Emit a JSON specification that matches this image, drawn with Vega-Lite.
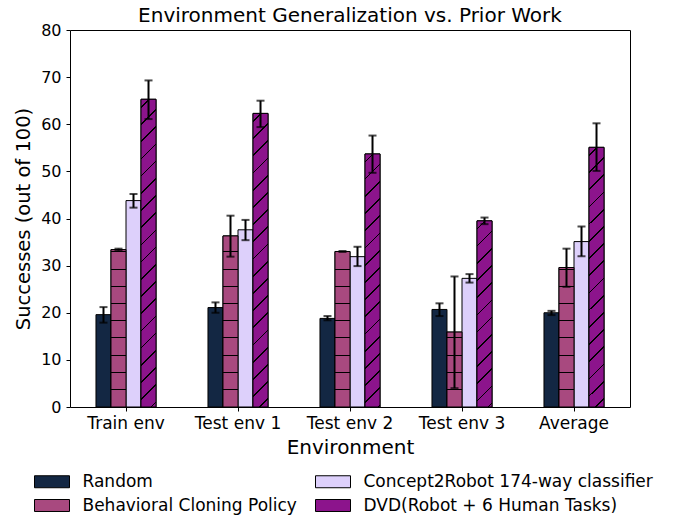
{
  "$schema": "https://vega.github.io/schema/vega-lite/v6.json",
  "width": 560,
  "height": 377,
  "autosize": {"type": "none"},
  "padding": {"left": 70, "top": 30, "right": 46, "bottom": 112},
  "config": {
    "font": "DejaVu Sans",
    "view": {"stroke": "black", "strokeWidth": 1},
    "axis": {"grid": false, "domain": false, "tickColor": "black", "labelColor": "black", "titleColor": "black", "labelFont": "DejaVu Sans", "titleFont": "DejaVu Sans", "titleFontWeight": "normal"}
  },
  "title": {"text": "Environment Generalization vs. Prior Work", "fontSize": 20, "fontWeight": "normal", "color": "black", "offset": -4, "font": "DejaVu Sans"},
  "data": {"values": [
    {"env": "Train env", "method": "Random", "value": 19.6, "lo": 17.9, "hi": 21.2},
    {"env": "Train env", "method": "Behavioral Cloning Policy", "value": 33.4, "lo": 33.2, "hi": 33.6},
    {"env": "Train env", "method": "Concept2Robot 174-way classifier", "value": 43.8, "lo": 42.3, "hi": 45.2},
    {"env": "Train env", "method": "DVD(Robot + 6 Human Tasks)", "value": 65.3, "lo": 61.1, "hi": 69.3},
    {"env": "Test env 1", "method": "Random", "value": 21.1, "lo": 20.0, "hi": 22.2},
    {"env": "Test env 1", "method": "Behavioral Cloning Policy", "value": 36.3, "lo": 31.9, "hi": 40.6},
    {"env": "Test env 1", "method": "Concept2Robot 174-way classifier", "value": 37.6, "lo": 35.4, "hi": 39.7},
    {"env": "Test env 1", "method": "DVD(Robot + 6 Human Tasks)", "value": 62.3, "lo": 59.4, "hi": 65.0},
    {"env": "Test env 2", "method": "Random", "value": 18.8, "lo": 18.4, "hi": 19.3},
    {"env": "Test env 2", "method": "Behavioral Cloning Policy", "value": 33.0, "lo": 32.9, "hi": 33.1},
    {"env": "Test env 2", "method": "Concept2Robot 174-way classifier", "value": 31.9, "lo": 29.9, "hi": 34.0},
    {"env": "Test env 2", "method": "DVD(Robot + 6 Human Tasks)", "value": 53.7, "lo": 49.7, "hi": 57.6},
    {"env": "Test env 3", "method": "Random", "value": 20.7, "lo": 19.3, "hi": 22.0},
    {"env": "Test env 3", "method": "Behavioral Cloning Policy", "value": 15.9, "lo": 4.0, "hi": 27.7},
    {"env": "Test env 3", "method": "Concept2Robot 174-way classifier", "value": 27.3, "lo": 26.4, "hi": 28.2},
    {"env": "Test env 3", "method": "DVD(Robot + 6 Human Tasks)", "value": 39.5, "lo": 38.8, "hi": 40.2},
    {"env": "Average", "method": "Random", "value": 20.0, "lo": 19.5, "hi": 20.4},
    {"env": "Average", "method": "Behavioral Cloning Policy", "value": 29.6, "lo": 25.5, "hi": 33.6},
    {"env": "Average", "method": "Concept2Robot 174-way classifier", "value": 35.1, "lo": 32.0, "hi": 38.3},
    {"env": "Average", "method": "DVD(Robot + 6 Human Tasks)", "value": 55.1, "lo": 50.1, "hi": 60.2}
  ]},
  "encoding": {
    "x": {
      "field": "env", "type": "nominal",
      "scale": {"domain": ["Train env", "Test env 1", "Test env 2", "Test env 3", "Average"], "paddingInner": 0.464, "paddingOuter": 0.232},
      "axis": {"title": "Environment", "labelAngle": 0, "labelFontSize": 17, "titleFontSize": 20, "tickSize": 4, "labelPadding": 4, "titlePadding": 6}
    },
    "xOffset": {
      "field": "method", "type": "nominal",
      "scale": {"domain": ["Random", "Behavioral Cloning Policy", "Concept2Robot 174-way classifier", "DVD(Robot + 6 Human Tasks)"], "paddingInner": 0, "paddingOuter": 0}
    }
  },
  "layer": [
    {
      "mark": {"type": "bar", "stroke": "black", "strokeWidth": 1},
      "encoding": {
        "y": {"field": "value", "type": "quantitative", "scale": {"domain": [0, 80]},
          "axis": {"title": "Successes (out of 100)", "values": [0,10,20,30,40,50,60,70,80], "labelFontSize": 16, "titleFontSize": 19.5, "tickSize": 4, "labelPadding": 5, "titlePadding": 7}},
        "fill": {
          "field": "method", "type": "nominal",
          "scale": {"domain": ["Random", "Behavioral Cloning Policy", "Concept2Robot 174-way classifier", "DVD(Robot + 6 Human Tasks)"],
                    "range": ["#132743", "#a8497f", "#ddd0fb", "#8c148c"]},
          "legend": {
            "title": null, "orient": "none", "direction": "vertical", "legendX": -37, "legendY": 443, "columns": 2,
            "symbolType": "M-2.5,-0.857H2.5V0.857H-2.5Z", "symbolSize": 196, "symbolStrokeColor": "black", "symbolStrokeWidth": 1,
            "labelFontSize": 17, "labelFont": "DejaVu Sans", "labelColor": "black", "labelLimit": 400, "columnPadding": 16, "rowPadding": 6, "symbolOffset": 10.5, "labelOffset": 22
          }
        }
      }
    },
    {"transform": [{"filter": "datum.env == 'Train env' && datum.method == 'Behavioral Cloning Policy'"}],
     "mark": {"type": "bar", "stroke": "black", "strokeWidth": 1, "fill": {"gradient": "linear", "x1": 0, "y1": 1, "x2": 0, "y2": 0, "stops": [
      {"offset":0,"color":"#a8497f"},
      {"offset":0.1080,"color":"#a8497f"},{"offset":0.1080,"color":"#000"},{"offset":0.1144,"color":"#000"},{"offset":0.1144,"color":"#a8497f"},
      {"offset":0.2173,"color":"#a8497f"},{"offset":0.2173,"color":"#000"},{"offset":0.2236,"color":"#000"},{"offset":0.2236,"color":"#a8497f"},
      {"offset":0.3266,"color":"#a8497f"},{"offset":0.3266,"color":"#000"},{"offset":0.3329,"color":"#000"},{"offset":0.3329,"color":"#a8497f"},
      {"offset":0.4358,"color":"#a8497f"},{"offset":0.4358,"color":"#000"},{"offset":0.4422,"color":"#000"},{"offset":0.4422,"color":"#a8497f"},
      {"offset":0.5451,"color":"#a8497f"},{"offset":0.5451,"color":"#000"},{"offset":0.5515,"color":"#000"},{"offset":0.5515,"color":"#a8497f"},
      {"offset":0.6544,"color":"#a8497f"},{"offset":0.6544,"color":"#000"},{"offset":0.6607,"color":"#000"},{"offset":0.6607,"color":"#a8497f"},
      {"offset":0.7637,"color":"#a8497f"},{"offset":0.7637,"color":"#000"},{"offset":0.7700,"color":"#000"},{"offset":0.7700,"color":"#a8497f"},
      {"offset":0.8729,"color":"#a8497f"},{"offset":0.8729,"color":"#000"},{"offset":0.8793,"color":"#000"},{"offset":0.8793,"color":"#a8497f"},
      {"offset":0.9822,"color":"#a8497f"},{"offset":0.9822,"color":"#000"},{"offset":0.9886,"color":"#000"},{"offset":0.9886,"color":"#a8497f"},
      {"offset":1,"color":"#a8497f"}]}},
     "encoding": {"y": {"field": "value", "type": "quantitative"}}},
    {"transform": [{"filter": "datum.env == 'Test env 1' && datum.method == 'Behavioral Cloning Policy'"}],
     "mark": {"type": "bar", "stroke": "black", "strokeWidth": 1, "fill": {"gradient": "linear", "x1": 0, "y1": 1, "x2": 0, "y2": 0, "stops": [
      {"offset":0,"color":"#a8497f"},
      {"offset":0.0994,"color":"#a8497f"},{"offset":0.0994,"color":"#000"},{"offset":0.1052,"color":"#000"},{"offset":0.1052,"color":"#a8497f"},
      {"offset":0.1999,"color":"#a8497f"},{"offset":0.1999,"color":"#000"},{"offset":0.2058,"color":"#000"},{"offset":0.2058,"color":"#a8497f"},
      {"offset":0.3005,"color":"#a8497f"},{"offset":0.3005,"color":"#000"},{"offset":0.3063,"color":"#000"},{"offset":0.3063,"color":"#a8497f"},
      {"offset":0.4010,"color":"#a8497f"},{"offset":0.4010,"color":"#000"},{"offset":0.4069,"color":"#000"},{"offset":0.4069,"color":"#a8497f"},
      {"offset":0.5016,"color":"#a8497f"},{"offset":0.5016,"color":"#000"},{"offset":0.5074,"color":"#000"},{"offset":0.5074,"color":"#a8497f"},
      {"offset":0.6021,"color":"#a8497f"},{"offset":0.6021,"color":"#000"},{"offset":0.6080,"color":"#000"},{"offset":0.6080,"color":"#a8497f"},
      {"offset":0.7027,"color":"#a8497f"},{"offset":0.7027,"color":"#000"},{"offset":0.7085,"color":"#000"},{"offset":0.7085,"color":"#a8497f"},
      {"offset":0.8032,"color":"#a8497f"},{"offset":0.8032,"color":"#000"},{"offset":0.8091,"color":"#000"},{"offset":0.8091,"color":"#a8497f"},
      {"offset":0.9038,"color":"#a8497f"},{"offset":0.9038,"color":"#000"},{"offset":0.9096,"color":"#000"},{"offset":0.9096,"color":"#a8497f"},
      {"offset":1,"color":"#a8497f"}]}},
     "encoding": {"y": {"field": "value", "type": "quantitative"}}},
    {"transform": [{"filter": "datum.env == 'Test env 2' && datum.method == 'Behavioral Cloning Policy'"}],
     "mark": {"type": "bar", "stroke": "black", "strokeWidth": 1, "fill": {"gradient": "linear", "x1": 0, "y1": 1, "x2": 0, "y2": 0, "stops": [
      {"offset":0,"color":"#a8497f"},
      {"offset":0.1093,"color":"#a8497f"},{"offset":0.1093,"color":"#000"},{"offset":0.1158,"color":"#000"},{"offset":0.1158,"color":"#a8497f"},
      {"offset":0.2199,"color":"#a8497f"},{"offset":0.2199,"color":"#000"},{"offset":0.2264,"color":"#000"},{"offset":0.2264,"color":"#a8497f"},
      {"offset":0.3305,"color":"#a8497f"},{"offset":0.3305,"color":"#000"},{"offset":0.3370,"color":"#000"},{"offset":0.3370,"color":"#a8497f"},
      {"offset":0.4412,"color":"#a8497f"},{"offset":0.4412,"color":"#000"},{"offset":0.4476,"color":"#000"},{"offset":0.4476,"color":"#a8497f"},
      {"offset":0.5518,"color":"#a8497f"},{"offset":0.5518,"color":"#000"},{"offset":0.5582,"color":"#000"},{"offset":0.5582,"color":"#a8497f"},
      {"offset":0.6624,"color":"#a8497f"},{"offset":0.6624,"color":"#000"},{"offset":0.6688,"color":"#000"},{"offset":0.6688,"color":"#a8497f"},
      {"offset":0.7730,"color":"#a8497f"},{"offset":0.7730,"color":"#000"},{"offset":0.7794,"color":"#000"},{"offset":0.7794,"color":"#a8497f"},
      {"offset":0.8836,"color":"#a8497f"},{"offset":0.8836,"color":"#000"},{"offset":0.8900,"color":"#000"},{"offset":0.8900,"color":"#a8497f"},
      {"offset":0.9942,"color":"#a8497f"},{"offset":0.9942,"color":"#000"},{"offset":1,"color":"#000"}]}},
     "encoding": {"y": {"field": "value", "type": "quantitative"}}},
    {"transform": [{"filter": "datum.env == 'Test env 3' && datum.method == 'Behavioral Cloning Policy'"}],
     "mark": {"type": "bar", "stroke": "black", "strokeWidth": 1, "fill": {"gradient": "linear", "x1": 0, "y1": 1, "x2": 0, "y2": 0, "stops": [
      {"offset":0,"color":"#a8497f"},
      {"offset":0.2269,"color":"#a8497f"},{"offset":0.2269,"color":"#000"},{"offset":0.2402,"color":"#000"},{"offset":0.2402,"color":"#a8497f"},
      {"offset":0.4564,"color":"#a8497f"},{"offset":0.4564,"color":"#000"},{"offset":0.4698,"color":"#000"},{"offset":0.4698,"color":"#a8497f"},
      {"offset":0.6860,"color":"#a8497f"},{"offset":0.6860,"color":"#000"},{"offset":0.6993,"color":"#000"},{"offset":0.6993,"color":"#a8497f"},
      {"offset":0.9155,"color":"#a8497f"},{"offset":0.9155,"color":"#000"},{"offset":0.9289,"color":"#000"},{"offset":0.9289,"color":"#a8497f"},
      {"offset":1,"color":"#a8497f"}]}},
     "encoding": {"y": {"field": "value", "type": "quantitative"}}},
    {"transform": [{"filter": "datum.env == 'Average' && datum.method == 'Behavioral Cloning Policy'"}],
     "mark": {"type": "bar", "stroke": "black", "strokeWidth": 1, "fill": {"gradient": "linear", "x1": 0, "y1": 1, "x2": 0, "y2": 0, "stops": [
      {"offset":0,"color":"#a8497f"},
      {"offset":0.1219,"color":"#a8497f"},{"offset":0.1219,"color":"#000"},{"offset":0.1290,"color":"#000"},{"offset":0.1290,"color":"#a8497f"},
      {"offset":0.2452,"color":"#a8497f"},{"offset":0.2452,"color":"#000"},{"offset":0.2523,"color":"#000"},{"offset":0.2523,"color":"#a8497f"},
      {"offset":0.3685,"color":"#a8497f"},{"offset":0.3685,"color":"#000"},{"offset":0.3757,"color":"#000"},{"offset":0.3757,"color":"#a8497f"},
      {"offset":0.4918,"color":"#a8497f"},{"offset":0.4918,"color":"#000"},{"offset":0.4990,"color":"#000"},{"offset":0.4990,"color":"#a8497f"},
      {"offset":0.6151,"color":"#a8497f"},{"offset":0.6151,"color":"#000"},{"offset":0.6223,"color":"#000"},{"offset":0.6223,"color":"#a8497f"},
      {"offset":0.7384,"color":"#a8497f"},{"offset":0.7384,"color":"#000"},{"offset":0.7456,"color":"#000"},{"offset":0.7456,"color":"#a8497f"},
      {"offset":0.8617,"color":"#a8497f"},{"offset":0.8617,"color":"#000"},{"offset":0.8689,"color":"#000"},{"offset":0.8689,"color":"#a8497f"},
      {"offset":0.9850,"color":"#a8497f"},{"offset":0.9850,"color":"#000"},{"offset":0.9922,"color":"#000"},{"offset":0.9922,"color":"#a8497f"},
      {"offset":1,"color":"#a8497f"}]}},
     "encoding": {"y": {"field": "value", "type": "quantitative"}}},
    {"transform": [{"filter": "datum.env == 'Train env' && datum.method == 'DVD(Robot + 6 Human Tasks)'"}],
     "mark": {"type": "bar", "stroke": "black", "strokeWidth": 1, "fill": {"gradient": "linear", "x1": 0, "y1": 0, "x2": 0.0510, "y2": 1.0463, "stops": [
      {"offset":0,"color":"#8c148c"},
      {"offset":0.0222,"color":"#8c148c"},{"offset":0.0222,"color":"#000"},{"offset":0.0275,"color":"#000"},{"offset":0.0275,"color":"#8c148c"},
      {"offset":0.0755,"color":"#8c148c"},{"offset":0.0755,"color":"#000"},{"offset":0.0808,"color":"#000"},{"offset":0.0808,"color":"#8c148c"},
      {"offset":0.1288,"color":"#8c148c"},{"offset":0.1288,"color":"#000"},{"offset":0.1341,"color":"#000"},{"offset":0.1341,"color":"#8c148c"},
      {"offset":0.1821,"color":"#8c148c"},{"offset":0.1821,"color":"#000"},{"offset":0.1874,"color":"#000"},{"offset":0.1874,"color":"#8c148c"},
      {"offset":0.2354,"color":"#8c148c"},{"offset":0.2354,"color":"#000"},{"offset":0.2407,"color":"#000"},{"offset":0.2407,"color":"#8c148c"},
      {"offset":0.2887,"color":"#8c148c"},{"offset":0.2887,"color":"#000"},{"offset":0.2940,"color":"#000"},{"offset":0.2940,"color":"#8c148c"},
      {"offset":0.3420,"color":"#8c148c"},{"offset":0.3420,"color":"#000"},{"offset":0.3473,"color":"#000"},{"offset":0.3473,"color":"#8c148c"},
      {"offset":0.3953,"color":"#8c148c"},{"offset":0.3953,"color":"#000"},{"offset":0.4006,"color":"#000"},{"offset":0.4006,"color":"#8c148c"},
      {"offset":0.4486,"color":"#8c148c"},{"offset":0.4486,"color":"#000"},{"offset":0.4539,"color":"#000"},{"offset":0.4539,"color":"#8c148c"},
      {"offset":0.5019,"color":"#8c148c"},{"offset":0.5019,"color":"#000"},{"offset":0.5072,"color":"#000"},{"offset":0.5072,"color":"#8c148c"},
      {"offset":0.5552,"color":"#8c148c"},{"offset":0.5552,"color":"#000"},{"offset":0.5605,"color":"#000"},{"offset":0.5605,"color":"#8c148c"},
      {"offset":0.6085,"color":"#8c148c"},{"offset":0.6085,"color":"#000"},{"offset":0.6138,"color":"#000"},{"offset":0.6138,"color":"#8c148c"},
      {"offset":0.6618,"color":"#8c148c"},{"offset":0.6618,"color":"#000"},{"offset":0.6671,"color":"#000"},{"offset":0.6671,"color":"#8c148c"},
      {"offset":0.7151,"color":"#8c148c"},{"offset":0.7151,"color":"#000"},{"offset":0.7204,"color":"#000"},{"offset":0.7204,"color":"#8c148c"},
      {"offset":0.7684,"color":"#8c148c"},{"offset":0.7684,"color":"#000"},{"offset":0.7737,"color":"#000"},{"offset":0.7737,"color":"#8c148c"},
      {"offset":0.8217,"color":"#8c148c"},{"offset":0.8217,"color":"#000"},{"offset":0.8270,"color":"#000"},{"offset":0.8270,"color":"#8c148c"},
      {"offset":0.8750,"color":"#8c148c"},{"offset":0.8750,"color":"#000"},{"offset":0.8803,"color":"#000"},{"offset":0.8803,"color":"#8c148c"},
      {"offset":0.9283,"color":"#8c148c"},{"offset":0.9283,"color":"#000"},{"offset":0.9336,"color":"#000"},{"offset":0.9336,"color":"#8c148c"},
      {"offset":0.9816,"color":"#8c148c"},{"offset":0.9816,"color":"#000"},{"offset":0.9869,"color":"#000"},{"offset":0.9869,"color":"#8c148c"},
      {"offset":1,"color":"#8c148c"}]}},
     "encoding": {"y": {"field": "value", "type": "quantitative"}}},
    {"transform": [{"filter": "datum.env == 'Test env 1' && datum.method == 'DVD(Robot + 6 Human Tasks)'"}],
     "mark": {"type": "bar", "stroke": "black", "strokeWidth": 1, "fill": {"gradient": "linear", "x1": 0, "y1": 0, "x2": 0.0536, "y2": 1.0484, "stops": [
      {"offset":0,"color":"#8c148c"},
      {"offset":0.0232,"color":"#8c148c"},{"offset":0.0232,"color":"#000"},{"offset":0.0287,"color":"#000"},{"offset":0.0287,"color":"#8c148c"},
      {"offset":0.0789,"color":"#8c148c"},{"offset":0.0789,"color":"#000"},{"offset":0.0844,"color":"#000"},{"offset":0.0844,"color":"#8c148c"},
      {"offset":0.1346,"color":"#8c148c"},{"offset":0.1346,"color":"#000"},{"offset":0.1401,"color":"#000"},{"offset":0.1401,"color":"#8c148c"},
      {"offset":0.1904,"color":"#8c148c"},{"offset":0.1904,"color":"#000"},{"offset":0.1959,"color":"#000"},{"offset":0.1959,"color":"#8c148c"},
      {"offset":0.2461,"color":"#8c148c"},{"offset":0.2461,"color":"#000"},{"offset":0.2516,"color":"#000"},{"offset":0.2516,"color":"#8c148c"},
      {"offset":0.3019,"color":"#8c148c"},{"offset":0.3019,"color":"#000"},{"offset":0.3074,"color":"#000"},{"offset":0.3074,"color":"#8c148c"},
      {"offset":0.3576,"color":"#8c148c"},{"offset":0.3576,"color":"#000"},{"offset":0.3631,"color":"#000"},{"offset":0.3631,"color":"#8c148c"},
      {"offset":0.4133,"color":"#8c148c"},{"offset":0.4133,"color":"#000"},{"offset":0.4188,"color":"#000"},{"offset":0.4188,"color":"#8c148c"},
      {"offset":0.4691,"color":"#8c148c"},{"offset":0.4691,"color":"#000"},{"offset":0.4746,"color":"#000"},{"offset":0.4746,"color":"#8c148c"},
      {"offset":0.5248,"color":"#8c148c"},{"offset":0.5248,"color":"#000"},{"offset":0.5303,"color":"#000"},{"offset":0.5303,"color":"#8c148c"},
      {"offset":0.5806,"color":"#8c148c"},{"offset":0.5806,"color":"#000"},{"offset":0.5861,"color":"#000"},{"offset":0.5861,"color":"#8c148c"},
      {"offset":0.6363,"color":"#8c148c"},{"offset":0.6363,"color":"#000"},{"offset":0.6418,"color":"#000"},{"offset":0.6418,"color":"#8c148c"},
      {"offset":0.6920,"color":"#8c148c"},{"offset":0.6920,"color":"#000"},{"offset":0.6975,"color":"#000"},{"offset":0.6975,"color":"#8c148c"},
      {"offset":0.7478,"color":"#8c148c"},{"offset":0.7478,"color":"#000"},{"offset":0.7533,"color":"#000"},{"offset":0.7533,"color":"#8c148c"},
      {"offset":0.8035,"color":"#8c148c"},{"offset":0.8035,"color":"#000"},{"offset":0.8090,"color":"#000"},{"offset":0.8090,"color":"#8c148c"},
      {"offset":0.8593,"color":"#8c148c"},{"offset":0.8593,"color":"#000"},{"offset":0.8648,"color":"#000"},{"offset":0.8648,"color":"#8c148c"},
      {"offset":0.9150,"color":"#8c148c"},{"offset":0.9150,"color":"#000"},{"offset":0.9205,"color":"#000"},{"offset":0.9205,"color":"#8c148c"},
      {"offset":0.9707,"color":"#8c148c"},{"offset":0.9707,"color":"#000"},{"offset":0.9762,"color":"#000"},{"offset":0.9762,"color":"#8c148c"},
      {"offset":1,"color":"#8c148c"}]}},
     "encoding": {"y": {"field": "value", "type": "quantitative"}}},
    {"transform": [{"filter": "datum.env == 'Test env 2' && datum.method == 'DVD(Robot + 6 Human Tasks)'"}],
     "mark": {"type": "bar", "stroke": "black", "strokeWidth": 1, "fill": {"gradient": "linear", "x1": 0, "y1": 0, "x2": 0.0626, "y2": 1.0556, "stops": [
      {"offset":0,"color":"#8c148c"},
      {"offset":0.0267,"color":"#8c148c"},{"offset":0.0267,"color":"#000"},{"offset":0.0330,"color":"#000"},{"offset":0.0330,"color":"#8c148c"},
      {"offset":0.0908,"color":"#8c148c"},{"offset":0.0908,"color":"#000"},{"offset":0.0971,"color":"#000"},{"offset":0.0971,"color":"#8c148c"},
      {"offset":0.1550,"color":"#8c148c"},{"offset":0.1550,"color":"#000"},{"offset":0.1613,"color":"#000"},{"offset":0.1613,"color":"#8c148c"},
      {"offset":0.2192,"color":"#8c148c"},{"offset":0.2192,"color":"#000"},{"offset":0.2255,"color":"#000"},{"offset":0.2255,"color":"#8c148c"},
      {"offset":0.2834,"color":"#8c148c"},{"offset":0.2834,"color":"#000"},{"offset":0.2897,"color":"#000"},{"offset":0.2897,"color":"#8c148c"},
      {"offset":0.3475,"color":"#8c148c"},{"offset":0.3475,"color":"#000"},{"offset":0.3538,"color":"#000"},{"offset":0.3538,"color":"#8c148c"},
      {"offset":0.4117,"color":"#8c148c"},{"offset":0.4117,"color":"#000"},{"offset":0.4180,"color":"#000"},{"offset":0.4180,"color":"#8c148c"},
      {"offset":0.4759,"color":"#8c148c"},{"offset":0.4759,"color":"#000"},{"offset":0.4822,"color":"#000"},{"offset":0.4822,"color":"#8c148c"},
      {"offset":0.5400,"color":"#8c148c"},{"offset":0.5400,"color":"#000"},{"offset":0.5463,"color":"#000"},{"offset":0.5463,"color":"#8c148c"},
      {"offset":0.6042,"color":"#8c148c"},{"offset":0.6042,"color":"#000"},{"offset":0.6105,"color":"#000"},{"offset":0.6105,"color":"#8c148c"},
      {"offset":0.6684,"color":"#8c148c"},{"offset":0.6684,"color":"#000"},{"offset":0.6747,"color":"#000"},{"offset":0.6747,"color":"#8c148c"},
      {"offset":0.7326,"color":"#8c148c"},{"offset":0.7326,"color":"#000"},{"offset":0.7389,"color":"#000"},{"offset":0.7389,"color":"#8c148c"},
      {"offset":0.7967,"color":"#8c148c"},{"offset":0.7967,"color":"#000"},{"offset":0.8030,"color":"#000"},{"offset":0.8030,"color":"#8c148c"},
      {"offset":0.8609,"color":"#8c148c"},{"offset":0.8609,"color":"#000"},{"offset":0.8672,"color":"#000"},{"offset":0.8672,"color":"#8c148c"},
      {"offset":0.9251,"color":"#8c148c"},{"offset":0.9251,"color":"#000"},{"offset":0.9314,"color":"#000"},{"offset":0.9314,"color":"#8c148c"},
      {"offset":0.9892,"color":"#8c148c"},{"offset":0.9892,"color":"#000"},{"offset":0.9955,"color":"#000"},{"offset":0.9955,"color":"#8c148c"},
      {"offset":1,"color":"#8c148c"}]}},
     "encoding": {"y": {"field": "value", "type": "quantitative"}}},
    {"transform": [{"filter": "datum.env == 'Test env 3' && datum.method == 'DVD(Robot + 6 Human Tasks)'"}],
     "mark": {"type": "bar", "stroke": "black", "strokeWidth": 1, "fill": {"gradient": "linear", "x1": 0, "y1": 0, "x2": 0.0865, "y2": 1.0736, "stops": [
      {"offset":0,"color":"#8c148c"},
      {"offset":0.0356,"color":"#8c148c"},{"offset":0.0356,"color":"#000"},{"offset":0.0441,"color":"#000"},{"offset":0.0441,"color":"#8c148c"},
      {"offset":0.1211,"color":"#8c148c"},{"offset":0.1211,"color":"#000"},{"offset":0.1296,"color":"#000"},{"offset":0.1296,"color":"#8c148c"},
      {"offset":0.2066,"color":"#8c148c"},{"offset":0.2066,"color":"#000"},{"offset":0.2151,"color":"#000"},{"offset":0.2151,"color":"#8c148c"},
      {"offset":0.2921,"color":"#8c148c"},{"offset":0.2921,"color":"#000"},{"offset":0.3006,"color":"#000"},{"offset":0.3006,"color":"#8c148c"},
      {"offset":0.3776,"color":"#8c148c"},{"offset":0.3776,"color":"#000"},{"offset":0.3861,"color":"#000"},{"offset":0.3861,"color":"#8c148c"},
      {"offset":0.4631,"color":"#8c148c"},{"offset":0.4631,"color":"#000"},{"offset":0.4716,"color":"#000"},{"offset":0.4716,"color":"#8c148c"},
      {"offset":0.5486,"color":"#8c148c"},{"offset":0.5486,"color":"#000"},{"offset":0.5571,"color":"#000"},{"offset":0.5571,"color":"#8c148c"},
      {"offset":0.6341,"color":"#8c148c"},{"offset":0.6341,"color":"#000"},{"offset":0.6426,"color":"#000"},{"offset":0.6426,"color":"#8c148c"},
      {"offset":0.7196,"color":"#8c148c"},{"offset":0.7196,"color":"#000"},{"offset":0.7281,"color":"#000"},{"offset":0.7281,"color":"#8c148c"},
      {"offset":0.8051,"color":"#8c148c"},{"offset":0.8051,"color":"#000"},{"offset":0.8136,"color":"#000"},{"offset":0.8136,"color":"#8c148c"},
      {"offset":0.8906,"color":"#8c148c"},{"offset":0.8906,"color":"#000"},{"offset":0.8991,"color":"#000"},{"offset":0.8991,"color":"#8c148c"},
      {"offset":0.9761,"color":"#8c148c"},{"offset":0.9761,"color":"#000"},{"offset":0.9846,"color":"#000"},{"offset":0.9846,"color":"#8c148c"},
      {"offset":1,"color":"#8c148c"}]}},
     "encoding": {"y": {"field": "value", "type": "quantitative"}}},
    {"transform": [{"filter": "datum.env == 'Average' && datum.method == 'DVD(Robot + 6 Human Tasks)'"}],
     "mark": {"type": "bar", "stroke": "black", "strokeWidth": 1, "fill": {"gradient": "linear", "x1": 0, "y1": 0, "x2": 0.0609, "y2": 1.0543, "stops": [
      {"offset":0,"color":"#8c148c"},
      {"offset":0.0260,"color":"#8c148c"},{"offset":0.0260,"color":"#000"},{"offset":0.0322,"color":"#000"},{"offset":0.0322,"color":"#8c148c"},
      {"offset":0.0887,"color":"#8c148c"},{"offset":0.0887,"color":"#000"},{"offset":0.0949,"color":"#000"},{"offset":0.0949,"color":"#8c148c"},
      {"offset":0.1513,"color":"#8c148c"},{"offset":0.1513,"color":"#000"},{"offset":0.1575,"color":"#000"},{"offset":0.1575,"color":"#8c148c"},
      {"offset":0.2139,"color":"#8c148c"},{"offset":0.2139,"color":"#000"},{"offset":0.2201,"color":"#000"},{"offset":0.2201,"color":"#8c148c"},
      {"offset":0.2765,"color":"#8c148c"},{"offset":0.2765,"color":"#000"},{"offset":0.2827,"color":"#000"},{"offset":0.2827,"color":"#8c148c"},
      {"offset":0.3391,"color":"#8c148c"},{"offset":0.3391,"color":"#000"},{"offset":0.3453,"color":"#000"},{"offset":0.3453,"color":"#8c148c"},
      {"offset":0.4017,"color":"#8c148c"},{"offset":0.4017,"color":"#000"},{"offset":0.4079,"color":"#000"},{"offset":0.4079,"color":"#8c148c"},
      {"offset":0.4644,"color":"#8c148c"},{"offset":0.4644,"color":"#000"},{"offset":0.4706,"color":"#000"},{"offset":0.4706,"color":"#8c148c"},
      {"offset":0.5270,"color":"#8c148c"},{"offset":0.5270,"color":"#000"},{"offset":0.5332,"color":"#000"},{"offset":0.5332,"color":"#8c148c"},
      {"offset":0.5896,"color":"#8c148c"},{"offset":0.5896,"color":"#000"},{"offset":0.5958,"color":"#000"},{"offset":0.5958,"color":"#8c148c"},
      {"offset":0.6522,"color":"#8c148c"},{"offset":0.6522,"color":"#000"},{"offset":0.6584,"color":"#000"},{"offset":0.6584,"color":"#8c148c"},
      {"offset":0.7148,"color":"#8c148c"},{"offset":0.7148,"color":"#000"},{"offset":0.7210,"color":"#000"},{"offset":0.7210,"color":"#8c148c"},
      {"offset":0.7774,"color":"#8c148c"},{"offset":0.7774,"color":"#000"},{"offset":0.7836,"color":"#000"},{"offset":0.7836,"color":"#8c148c"},
      {"offset":0.8401,"color":"#8c148c"},{"offset":0.8401,"color":"#000"},{"offset":0.8463,"color":"#000"},{"offset":0.8463,"color":"#8c148c"},
      {"offset":0.9027,"color":"#8c148c"},{"offset":0.9027,"color":"#000"},{"offset":0.9089,"color":"#000"},{"offset":0.9089,"color":"#8c148c"},
      {"offset":0.9653,"color":"#8c148c"},{"offset":0.9653,"color":"#000"},{"offset":0.9715,"color":"#000"},{"offset":0.9715,"color":"#8c148c"},
      {"offset":1,"color":"#8c148c"}]}},
     "encoding": {"y": {"field": "value", "type": "quantitative"}}},
    {
      "mark": {"type": "rule", "color": "black", "strokeWidth": 2},
      "encoding": {
        "y": {"field": "lo", "type": "quantitative"},
        "y2": {"field": "hi"}
      }
    },
    {
      "mark": {"type": "tick", "color": "black", "thickness": 2, "size": 8},
      "encoding": {"y": {"field": "lo", "type": "quantitative"}}
    },
    {
      "mark": {"type": "tick", "color": "black", "thickness": 2, "size": 8},
      "encoding": {"y": {"field": "hi", "type": "quantitative"}}
    }
  ]
}
